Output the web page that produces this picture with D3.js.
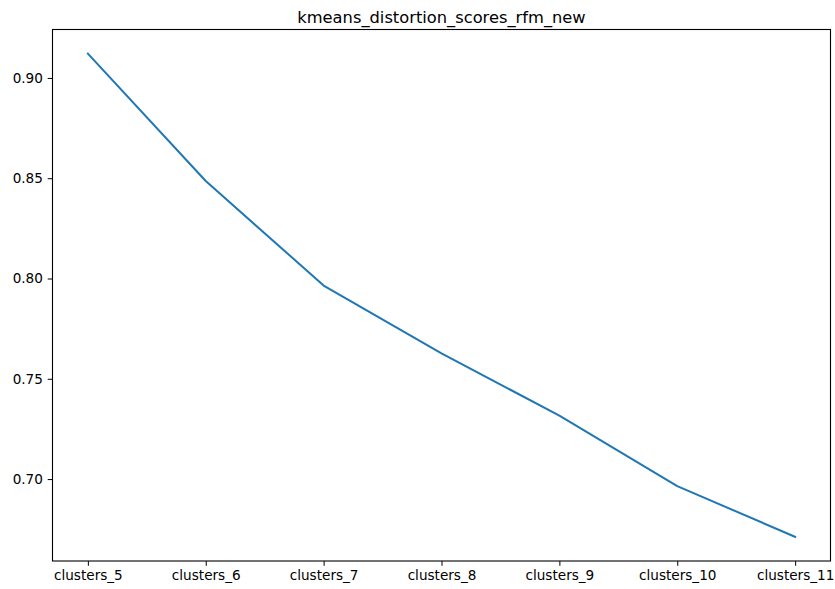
<!DOCTYPE html>
<html>
<head>
<meta charset="utf-8">
<script src="https://cdn.jsdelivr.net/npm/d3@7"></script>
<style>
  html, body { margin: 0; padding: 0; background: #fff; }
  svg { display: block; }
  text { font-family: "DejaVu Sans", sans-serif; fill: #000; }
</style>
</head>
<body>
<svg id="chart" width="835" height="589"></svg>
<script>
const title = "kmeans_distortion_scores_rfm_new";
const categories = ["clusters_5", "clusters_6", "clusters_7", "clusters_8", "clusters_9", "clusters_10", "clusters_11"];
const values = [0.9121, 0.8486, 0.7965, 0.7627, 0.7316, 0.6965, 0.6712];
const yTicks = [0.70, 0.75, 0.80, 0.85, 0.90];

const W = 835, H = 589;
const m = { left: 52.5, right: 4.5, top: 29.5, bottom: 28 };
const iw = W - m.left - m.right, ih = H - m.top - m.bottom;

const svg = d3.select("#chart");
const g = svg.append("g").attr("transform", `translate(${m.left},${m.top})`);

const n = categories.length;
const x = d3.scaleLinear().domain([-0.3, n - 1 + 0.3]).range([0, iw]);
const ymin = d3.min(values), ymax = d3.max(values), pad = (ymax - ymin) * 0.05;
const y = d3.scaleLinear().domain([ymin - pad, ymax + pad]).range([ih, 0]);

const xAxis = d3.axisBottom(x).tickValues(d3.range(n)).tickFormat(i => categories[i])
  .tickSize(4.8).tickPadding(4.8);
const yAxis = d3.axisLeft(y).tickValues(yTicks).tickFormat(d3.format(".2f"))
  .tickSize(4.8).tickPadding(4.8);

const gx = g.append("g").attr("transform", `translate(0,${ih})`).call(xAxis);
const gy = g.append("g").call(yAxis);
[gx, gy].forEach(a => {
  a.select(".domain").remove();
  a.selectAll(".tick line").attr("stroke", "#000").attr("stroke-width", 1);
  a.selectAll(".tick text").style("font-size", "13.6px").style("font-family", "DejaVu Sans");
});

g.append("path")
  .datum(values)
  .attr("fill", "none")
  .attr("stroke", "#1f77b4")
  .attr("stroke-width", 2)
  .attr("stroke-linecap", "square")
  .attr("stroke-linejoin", "round")
  .attr("d", d3.line().x((d, i) => x(i)).y(d => y(d)));

g.append("rect")
  .attr("x", 0).attr("y", 0).attr("width", iw).attr("height", ih)
  .attr("fill", "none").attr("stroke", "#000").attr("stroke-width", 1.1);

svg.append("text")
  .attr("x", m.left + iw / 2).attr("y", 23)
  .attr("text-anchor", "middle")
  .style("font-size", "16.3px")
  .text(title);
</script>
</body>
</html>
